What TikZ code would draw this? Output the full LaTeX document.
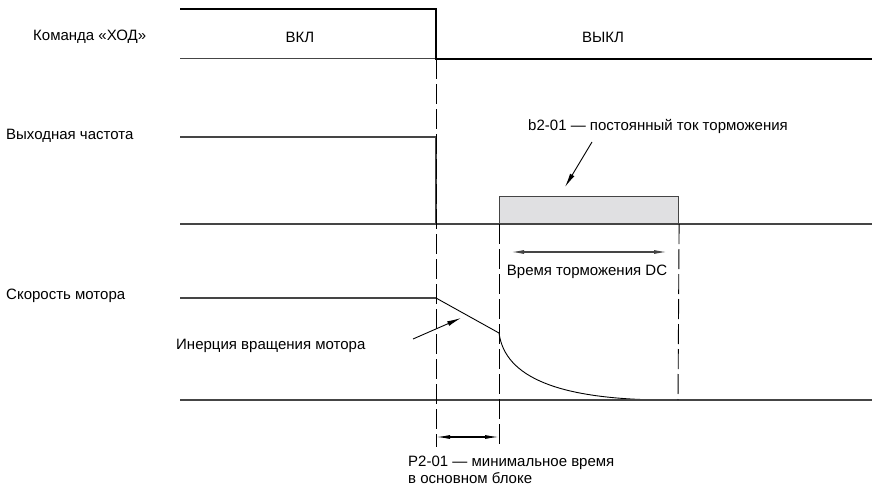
\documentclass[tikz,border=0pt]{standalone}
\usepackage{fontspec}
\setmainfont{Liberation Sans}
\usetikzlibrary{arrows.meta,positioning,calc}
\definecolor{boxgray}{HTML}{E0E0E2}
\definecolor{linegray}{HTML}{454545}

\begin{document}
\begin{tikzpicture}[x=1pt,y=-1pt,
  font=\fontsize{15}{17}\selectfont,
  lbl/.style={inner sep=0pt,anchor=west},
  sig/.style={line width=1.1pt,draw=linegray},
  base/.style={line width=1.4pt,draw=linegray},
  guide/.style={line width=0.9pt,dash pattern=on 20pt off 5pt},
  ptr/.style={-{Latex[length=14pt,width=5pt]},line width=0.9pt},
  dim/.style={{Latex[length=14pt,width=4pt]}-{Latex[length=14pt,width=4pt]},line width=1.4pt,draw=linegray}]
\useasboundingbox (0,0) rectangle (872,495);

% row labels
\node[lbl] (run) at (33,37) {Команда «ХОД»};
\node[lbl] (freq) at (6,136) {Выходная частота};
\node[lbl] (speed) at (6,296) {Скорость мотора};
\node (on) at (300,37) {ВКЛ};
\node (off) at (603,37) {ВЫКЛ};

% RUN command
\coordinate (r0) at (180,9);
\coordinate (r1) at (436,9);
\coordinate (r2) at (436,59);
\coordinate (r3) at (872,59);
\draw[base,line width=1pt] (180,59) -- (r2);
\draw[line width=2.8pt,line join=miter] (r0) -- (r1) -- (r2) -- (r3);

% output frequency
\coordinate (f0) at (180,137);
\coordinate (f1) at (436,137);
\coordinate (f2) at (436,224);
\draw[sig] (f0) -- (f1) -- (f2);
\draw[base] (180,224) -- (872,224);
\node[draw=linegray,fill=boxgray,line width=1.1pt,inner sep=0pt,
  minimum width=179pt,minimum height=27pt,anchor=south west] (dcbox) at (499,224) {};
\node (dcl) at (658,126) {b2-01 — постоянный ток торможения};
\coordinate (dctail) at (592,142);
\coordinate (dctip) at (565,187);
\draw[ptr] (dctail) -- (dctip);

% motor speed
\coordinate (s0) at (180,298);
\coordinate (s1) at (436,298);
\coordinate (s2) at (499,333);
\coordinate (s3) at (662,400);
\draw[sig] (s0) -- (s1);
\draw[line width=0.9pt] (s1) -- (s2) .. controls (505,378) and (560,399) .. (s3);
\draw[base,line width=1.2pt] (180,400) -- (872,400);
\node[lbl] (inert) at (176,346) {Инерция вращения мотора};
\coordinate (intail) at (413,339);
\coordinate (intip) at (461,318);
\draw[ptr] (intail) -- (intip);

% guide lines
\draw[guide] (r2) -- (436,447);
\draw[guide] (dcbox.south west) -- (499,447);
\draw[guide] (dcbox.south east) -- (678,400);

% DC braking time
\coordinate (d0) at (510,252);
\coordinate (d1) at (668,252);
\draw[dim] (d0) -- (d1);
\node (dct) at (587,272) {Время торможения DC};

% minimum baseblock time
\coordinate (b0) at (436,437);
\coordinate (b1) at (499,437);
\draw[dim,draw=black,line width=1.1pt] (b0) -- (b1);
\node[lbl,align=left,anchor=north west] (bb) at (408,456) {P2-01 — минимальное время\\в основном блоке};
\end{tikzpicture}
\end{document}
